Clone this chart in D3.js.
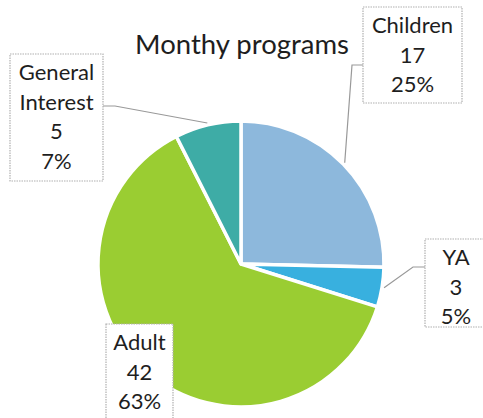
<!DOCTYPE html>
<html>
<head>
<meta charset="utf-8">
<script src="https://cdn.jsdelivr.net/npm/d3@7"></script>
<style>
  body { margin: 0; background: #fff; }
  text { font-family: Lato, "Open Sans", sans-serif; fill: #1e1e1e; }
</style>
</head>
<body>
<div id="chart"></div>
<script>
// chart data
var categories = ["Children", "YA", "Adult", "General Interest"];
var values = [17, 3, 42, 5];
var percents = ["25%", "5%", "63%", "7%"];
var colors = ["#8db8dc", "#38b0df", "#9acd32", "#3eaca6"];

var width = 483, height = 418;
var cx = 241, cy = 264, radius = 143;

// label boxes (layout only): box rect, text lines, leader elbow
var boxes = [
    {x: 363, y: 7, w: 99, h: 96, lines: ["Children"], elbow: [352, 65], leader: true},
    {x: 425, y: 239, w: 62, h: 88, lines: ["YA"], elbow: [413, 267], leader: true},
    {x: 106, y: 324, w: 67, h: 100, lines: ["Adult"], leader: false},
    {x: 10, y: 54, w: 93, h: 127, lines: ["General", "Interest"], elbow: [115, 106], leader: true}
];

var svg = d3.select("#chart").append("svg")
    .attr("width", width)
    .attr("height", height);

svg.append("text")
    .attr("x", 242)
    .attr("y", 54)
    .attr("text-anchor", "middle")
    .style("font-size", "27.5px")
    .text("Monthy programs");

var pie = d3.pie().sort(null).value(function(d) { return d; });
var arcs = pie(values);

var arc = d3.arc().innerRadius(0).outerRadius(radius);
var outer = d3.arc().innerRadius(radius + 2).outerRadius(radius + 2);

var g = svg.append("g")
    .attr("transform", "translate(" + cx + "," + cy + ")");

g.selectAll(".slice")
    .data(arcs)
    .enter().append("path")
    .attr("class", "slice")
    .attr("d", arc)
    .attr("fill", function(d, i) { return colors[i]; })
    .attr("stroke", "#fff")
    .attr("stroke-width", 3.5)
    .attr("stroke-linejoin", "round");

// leader lines
arcs.forEach(function(d, i) {
    var b = boxes[i];
    if (!b.leader) return;
    var c = outer.centroid(d);
    var side = b.x > cx ? b.x : b.x + b.w;
    svg.append("polyline")
        .attr("points", [[side, b.elbow[1]], b.elbow, [cx + c[0], cy + c[1]]].map(function(p) { return p.join(","); }).join(" "))
        .attr("fill", "none")
        .attr("stroke", "#999")
        .attr("stroke-width", 1.2);
});

// label boxes
arcs.forEach(function(d, i) {
    var b = boxes[i];
    var lg = svg.append("g");
    lg.append("rect")
        .attr("x", b.x).attr("y", b.y)
        .attr("width", b.w).attr("height", b.h)
        .attr("fill", "#fff")
        .attr("stroke", "#b0b0b0")
        .attr("stroke-width", 1.2)
        .attr("stroke-dasharray", "1.5,1");
    var lines = b.lines.concat([String(values[i]), percents[i]]);
    lg.selectAll("text")
        .data(lines)
        .enter().append("text")
        .attr("x", b.x + b.w / 2)
        .attr("y", function(t, j) { return b.y + 26 + j * 29.5; })
        .attr("text-anchor", "middle")
        .style("font-size", "22px")
        .text(function(t) { return t; });
});
</script>
</body>
</html>
